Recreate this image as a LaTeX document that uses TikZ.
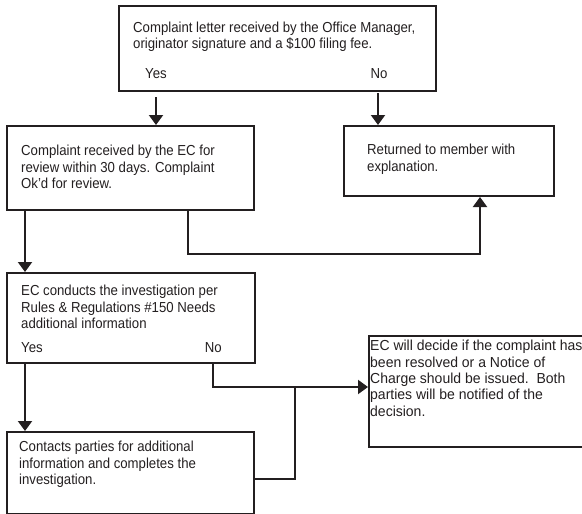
\documentclass[tikz,border=0pt]{standalone}
\usepackage{fontspec}
\setmainfont{Liberation Sans}[FakeStretch=0.91]
\newfontfamily\widefont{Liberation Sans}[FakeStretch=0.965]
\usetikzlibrary{arrows.meta}
\definecolor{ink}{RGB}{35,31,32}
\begin{document}
\begin{tikzpicture}[x=1pt,y=-1pt,
  box/.style={draw=ink, line width=2pt, rectangle, inner sep=0pt, anchor=north west},
  txt/.style={inner sep=0pt, anchor=base west, align=left, text=ink,
     font=\fontsize{14.5pt}{16.6pt}\selectfont},
  lab/.style={inner sep=0pt, anchor=base, text=ink, font=\fontsize{14.5pt}{16.6pt}\selectfont},
  conn/.style={draw=ink, line width=2pt},
  arr/.style={conn, -{Triangle[width=14pt,length=10pt]}}]
\useasboundingbox (0,0) rectangle (582,514);
% boxes
\node[box, minimum width=317pt, minimum height=85pt] (top) at (118,5) {};
\node[box, minimum width=247pt, minimum height=84pt] (box2) at (6,125) {};
\node[box, minimum width=210pt, minimum height=70pt] (box3) at (343,125) {};
\node[box, minimum width=248pt, minimum height=90pt] (box4) at (6,272) {};
\node[box, minimum width=218pt, minimum height=111pt] (box5) at (368,335) {};
\node[box, minimum width=247pt, minimum height=82pt] (box6) at (6,431) {};
% texts (anchor = baseline of the last line)
\node[txt] (ttop) at (133,48.6) {Complaint letter received by the Office Manager,\\originator signature and a \$100 filing fee.};
\node[lab] (yes1) at (156,78) {Yes};
\node[lab] (no1) at (379,78) {No};
\node[txt] (t2) at (21,188.7) {Complaint received by the EC for\\review within 30 days. Complaint\\Ok'd for review.};
\node[txt] (t3) at (367,171.1) {Returned to member with\\explanation.};
\node[txt] (t4) at (21,328.7) {EC conducts the investigation per\\Rules \& Regulations \#150 Needs\\additional information};
\node[txt] (yes2) at (21,352.5) {Yes};
\node[txt, anchor=base east] (no2) at (222,352.5) {No};
\node[txt, font=\widefont\fontsize{14.5pt}{16.3pt}\selectfont] (t5) at (370,416) {EC will decide if the complaint has\\been resolved or a Notice of\\Charge should be issued.\ \ Both\\parties will be notified of the\\decision.};
\node[txt] (t6) at (19,484.7) {Contacts parties for additional\\information and completes the\\investigation.};
% connectors
\coordinate (ya) at (156,97);
\coordinate (na) at (378,93);
\draw[arr] (ya) -- (ya |- box2.north);
\draw[arr] (na) -- (na |- box3.north);
\coordinate (j1) at (188,254);
\coordinate (k1) at (480,254);
\draw[arr] (j1 |- box2.south) -- (j1) -- (k1) -- (k1 |- box3.south);
\coordinate (l1) at (25,0);
\draw[arr] (l1 |- box2.south) -- (l1 |- box4.north);
\draw[arr] (l1 |- box4.south) -- (l1 |- box6.north);
\coordinate (j2) at (213,387);
\draw[arr] (j2 |- box4.south) -- (j2) -- (j2 -| box5.west);
\coordinate (j3) at (295,479);
\draw[conn] (j3 -| box6.east) -- (j3) -- (j3 |- j2);
\end{tikzpicture}
\end{document}
